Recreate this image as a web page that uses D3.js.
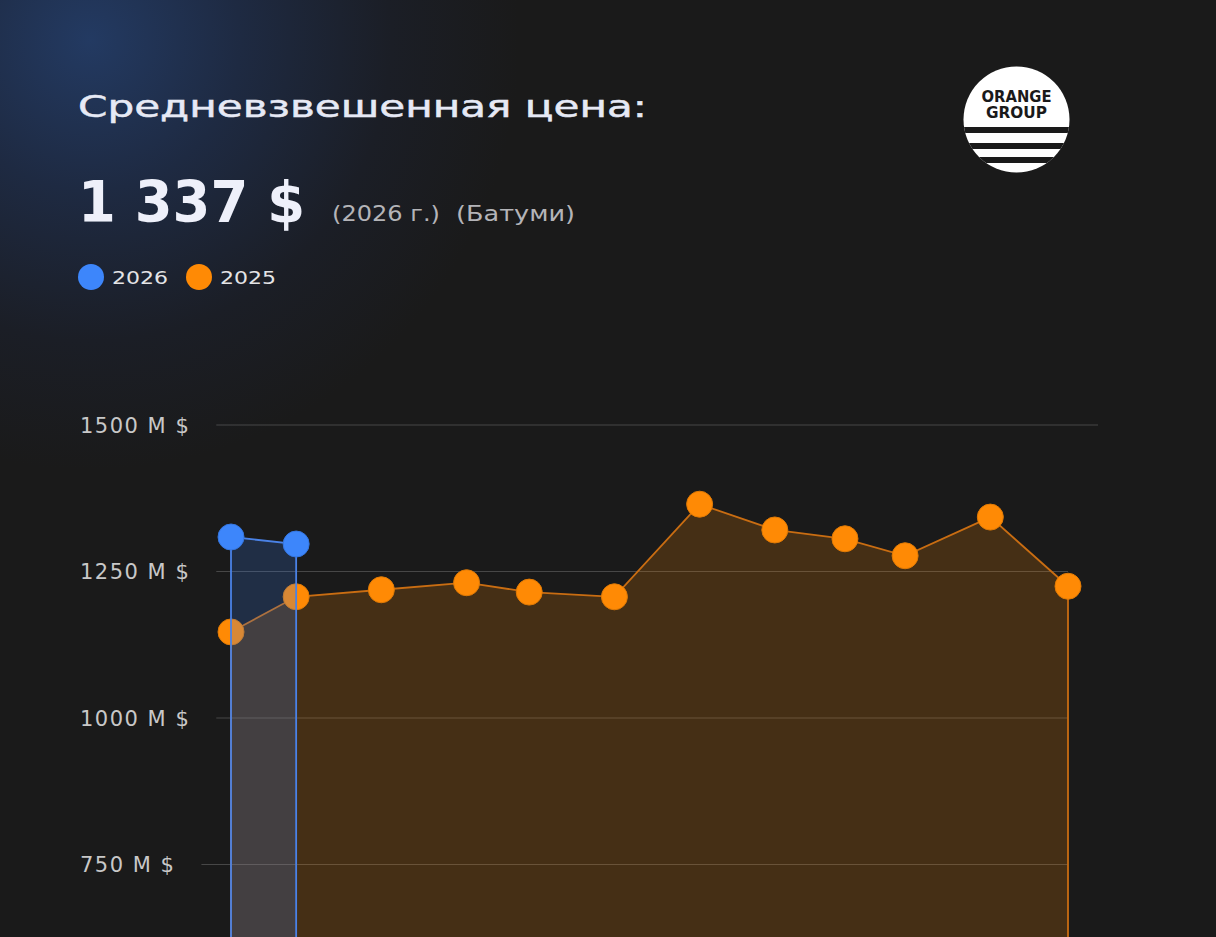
<!DOCTYPE html>
<html lang="ru">
<head>
<meta charset="utf-8">
<title>Средневзвешенная цена</title>
<script src="https://cdn.jsdelivr.net/npm/d3@7"></script>
<style>
  html, body { margin: 0; padding: 0; background: #1a1a1a; overflow: hidden; }
  svg { display: block; }
  text { font-family: "DejaVu Sans", sans-serif; }
</style>
</head>
<body>
<svg id="chart" width="1216" height="937"></svg>
<script>
// Даты замеров (общая ось для обоих лет: месяц-день)
const periods = ["01-01", "01-27", "03-02", "04-05", "04-30", "06-03",
                 "07-07", "08-06", "09-03", "09-27", "10-31", "12-01"];
// Средневзвешенная цена, M $
const values2025 = [1146, 1206, 1218, 1230, 1214, 1206, 1364, 1320, 1305, 1276, 1342, 1224];
const values2026 = [1308, 1296];
// видимые деления (ниже 750 график обрезан краем кадра)
const yTicks = [750, 1000, 1250, 1500];
const seriesNames = ["2026", "2025"];
const seriesColors = ["#3d86fb", "#ff8a05"];
const headline = "1 337 $";
const subLabels = ["(2026 г.)", "(Батуми)"];

const parseDay = d3.timeParse("%Y-%m-%d");
const dates = periods.map(p => parseDay("2025-" + p));

const svg = d3.select("#chart"),
    width = +svg.attr("width"),
    height = +svg.attr("height");

// фон с синим свечением слева сверху
const defs = svg.append("defs");
const glow = defs.append("radialGradient")
    .attr("id", "glow")
    .attr("gradientUnits", "userSpaceOnUse")
    .attr("cx", 90).attr("cy", 40).attr("r", 430);
glow.append("stop").attr("offset", 0).attr("stop-color", "#233a62");
glow.append("stop").attr("offset", 0.35).attr("stop-color", "#1e2a42");
glow.append("stop").attr("offset", 0.7).attr("stop-color", "#1b1e26");
glow.append("stop").attr("offset", 1).attr("stop-color", "#1a1a1a");

svg.append("rect").attr("width", width).attr("height", height).attr("fill", "#1a1a1a");
svg.append("rect").attr("width", width).attr("height", height).attr("fill", "url(#glow)");

// Заголовки
svg.append("text")
    .attr("x", 78).attr("y", 117)
    .attr("font-size", 30)
    .attr("fill", "#e6e9f5")
    .attr("stroke", "#e6e9f5")
    .attr("stroke-width", 0.5)
    .attr("textLength", 569)
    .attr("lengthAdjust", "spacingAndGlyphs")
    .text("Средневзвешенная цена:");

svg.append("text")
    .attr("x", 78).attr("y", 222)
    .attr("font-size", 57)
    .attr("font-weight", "bold")
    .attr("fill", "#eef0fa")
    .attr("textLength", 227)
    .attr("lengthAdjust", "spacingAndGlyphs")
    .text(headline);

const subX = [332, 456], subW = [108, 119];
svg.selectAll(".sub")
    .data(subLabels)
    .enter()
    .append("text")
    .attr("class", "sub")
    .attr("x", (d, i) => subX[i]).attr("y", 221)
    .attr("font-size", 22)
    .attr("fill", "#b4b4b8")
    .attr("textLength", (d, i) => subW[i])
    .attr("lengthAdjust", "spacingAndGlyphs")
    .text(d => d);

// Легенда
const legend = svg.selectAll(".legend")
    .data(seriesNames)
    .enter()
    .append("g")
    .attr("class", "legend")
    .attr("transform", (d, i) => `translate(${91 + i * 108},277)`);
legend.append("circle").attr("r", 13).attr("fill", (d, i) => seriesColors[i]);
legend.append("text")
    .attr("x", 21).attr("y", 6.5)
    .attr("font-size", 18)
    .attr("fill", "#e4e4e6")
    .attr("textLength", 56)
    .attr("lengthAdjust", "spacingAndGlyphs")
    .text(d => d);

// Логотип
const logo = svg.append("g").attr("transform", "translate(1016.5,119.5)");
defs.append("clipPath").attr("id", "logoClip")
    .append("circle").attr("r", 53);
logo.append("circle").attr("r", 53).attr("fill", "#ffffff");
const logoStripes = [7.5, 23.5, 37.5];
logo.append("g").attr("clip-path", "url(#logoClip)")
    .selectAll("rect")
    .data(logoStripes)
    .enter()
    .append("rect")
    .attr("x", -60).attr("width", 120)
    .attr("y", d => d).attr("height", 6)
    .attr("fill", "#1a1a1a");
logo.append("text")
    .attr("x", 0).attr("y", -18)
    .attr("text-anchor", "middle")
    .attr("font-size", 15.5).attr("font-weight", "bold")
    .attr("fill", "#1a1a1a")
    .attr("textLength", 70).attr("lengthAdjust", "spacingAndGlyphs")
    .text("ORANGE");
logo.append("text")
    .attr("x", 0).attr("y", -2)
    .attr("text-anchor", "middle")
    .attr("font-size", 15.5).attr("font-weight", "bold")
    .attr("fill", "#1a1a1a")
    .attr("textLength", 61).attr("lengthAdjust", "spacingAndGlyphs")
    .text("GROUP");

// Шкалы
const x = d3.scaleTime()
    .domain(d3.extent(dates))
    .range([231, 1068]);

const y = d3.scaleLinear()
    .domain([0, 1500])
    .range([1303.5, 424.5]);

// Ось Y (подписи слева, без линий)
const yAxis = svg.append("g")
    .attr("transform", "translate(80,0)")
    .call(d3.axisLeft(y).tickValues(yTicks).tickSize(0).tickFormat(d => d + " M $"));
yAxis.select(".domain").remove();
yAxis.selectAll("text")
    .attr("x", 0)
    .attr("dy", "0.36em")
    .attr("text-anchor", "start")
    .attr("fill", "#c8c8c8")
    .style("font-family", "'DejaVu Sans', sans-serif")
    .style("font-size", "21px")
    .style("letter-spacing", "1.5px");

// Сетка: начинается после подписи
const gridEnd = x.range()[1];
yAxis.selectAll(".tick").each(function(d) {
    const len = d3.select(this).select("text").node().getComputedTextLength();
    d3.select(this).append("line")
        .attr("x1", len + 26)
        .attr("x2", gridEnd - 80 + (d === 1500 ? 30 : 0))
        .attr("y1", 0).attr("y2", 0)
        .attr("stroke", "rgba(255,255,255,0.2)")
        .attr("stroke-width", 1);
});

const data2025 = values2025.map((v, i) => ({ date: dates[i], value: v }));
const data2026 = values2026.map((v, i) => ({ date: dates[i], value: v }));

const area = d3.area()
    .x(d => x(d.date))
    .y0(y(0))
    .y1(d => y(d.value));

// 2025 — оранжевая область
svg.append("path")
    .datum(data2025)
    .attr("d", area)
    .attr("fill", "rgba(255,140,0,0.19)")
    .attr("stroke", "#c96d12")
    .attr("stroke-width", 1.8);

svg.selectAll(".dot2025")
    .data(data2025)
    .enter()
    .append("circle")
    .attr("class", "dot2025")
    .attr("cx", d => x(d.date))
    .attr("cy", d => y(d.value))
    .attr("r", 13)
    .attr("fill", seriesColors[1])
    .attr("stroke", "#e07a05")
    .attr("stroke-width", 1);

// 2026 — синяя область поверх
svg.append("path")
    .datum(data2026)
    .attr("d", area)
    .attr("fill", "rgba(59,130,246,0.2)")
    .attr("stroke", "#4a82e6")
    .attr("stroke-width", 1.8);

svg.selectAll(".dot2026")
    .data(data2026)
    .enter()
    .append("circle")
    .attr("class", "dot2026")
    .attr("cx", d => x(d.date))
    .attr("cy", d => y(d.value))
    .attr("r", 13)
    .attr("fill", seriesColors[0])
    .attr("stroke", "#3576e0")
    .attr("stroke-width", 1);
</script>
</body>
</html>
